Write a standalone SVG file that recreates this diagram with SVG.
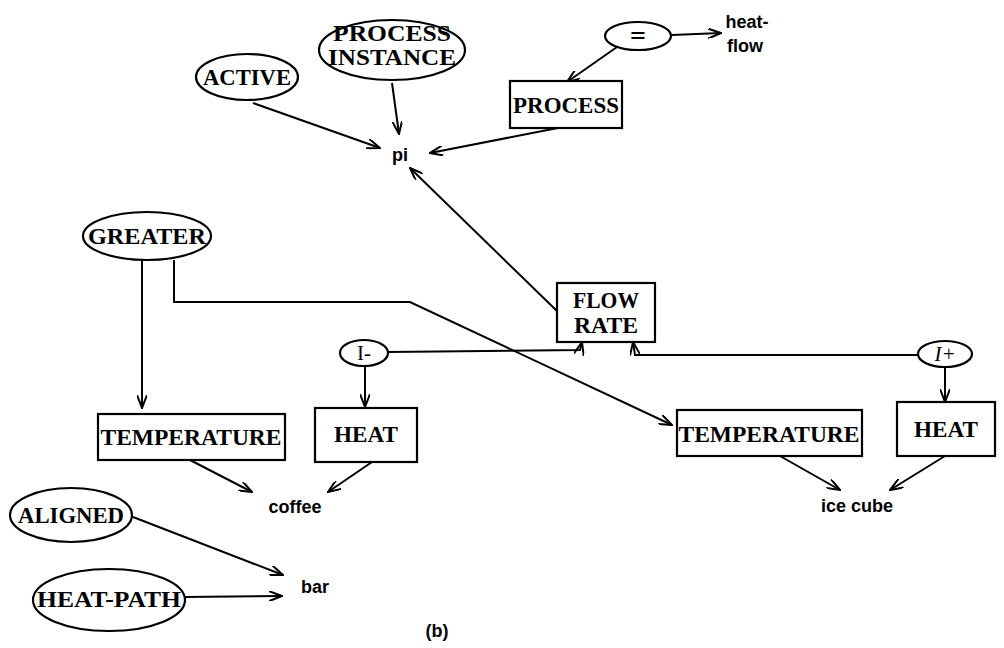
<svg xmlns="http://www.w3.org/2000/svg" width="1004" height="648" viewBox="0 0 1004 648">
<style>
.n{fill:#fff;stroke:#000;stroke-width:2.2}
.t{font-family:"Liberation Serif",serif;font-weight:bold;font-size:23px;text-anchor:middle;fill:#000}
.s{font-family:"Liberation Sans",sans-serif;font-weight:bold;font-size:18px;text-anchor:middle;fill:#000}
.e{fill:none;stroke:#000;stroke-width:2}
.r{font-weight:normal}
</style>
<defs>
<marker id="a" viewBox="0 0 14 10" refX="13" refY="5" markerWidth="14" markerHeight="10" markerUnits="userSpaceOnUse" orient="auto">
<path d="M0,0 L13,5 L0,10" fill="none" stroke="#000" stroke-width="2"/>
</marker>
</defs>
<g id="connectors">
<path class="e" d="M253,103 L380,148" marker-end="url(#a)"/>
<path class="e" d="M392,83 L399,134" marker-end="url(#a)"/>
<path class="e" d="M563,127 L430,153" marker-end="url(#a)"/>
<path class="e" d="M617,47 L567,82" marker-end="url(#a)"/>
<path class="e" d="M672,35 L721,33" marker-end="url(#a)"/>
<path class="e" d="M557,311 L410,168" marker-end="url(#a)"/>
<path class="e" d="M142,260 L142,408" marker-end="url(#a)"/>
<path class="e" d="M174,260 L174,302 L410,302 L672,425" marker-end="url(#a)"/>
<path class="e" d="M388,352 L580,350 L582,342" marker-end="url(#a)"/>
<path class="e" d="M918,355 L635,355 L633,342" marker-end="url(#a)"/>
<path class="e" d="M365,367 L365,407" marker-end="url(#a)"/>
<path class="e" d="M945,367 L945,402" marker-end="url(#a)"/>
<path class="e" d="M190,460 L252,492" marker-end="url(#a)"/>
<path class="e" d="M372,462 L328,492" marker-end="url(#a)"/>
<path class="e" d="M780,456 L840,490" marker-end="url(#a)"/>
<path class="e" d="M945,456 L890,490" marker-end="url(#a)"/>
<path class="e" d="M133,517 L283,575" marker-end="url(#a)"/>
<path class="e" d="M185,597 L282,596" marker-end="url(#a)"/>
</g>
<g id="active"><ellipse class="n" cx="247" cy="77" rx="51" ry="23"/><text class="t" x="247" y="85" textLength="88" lengthAdjust="spacingAndGlyphs">ACTIVE</text></g>
<g id="process-instance"><ellipse class="n" cx="392" cy="50" rx="73" ry="30"/><text class="t" x="392" y="41" textLength="118" lengthAdjust="spacingAndGlyphs">PROCESS</text><text class="t" x="392" y="65" textLength="128" lengthAdjust="spacingAndGlyphs">INSTANCE</text></g>
<g id="pi"><text class="s" x="400" y="161">pi</text></g>
<g id="eq"><ellipse class="n" cx="638" cy="36" rx="33" ry="14"/><text class="t" x="638" y="45" style="font-size:28px">=</text></g>
<g id="heat-flow"><text class="s" x="747" y="28" font-size="16">heat-</text><text class="s" x="745" y="52" font-size="16">flow</text></g>
<g id="process"><rect class="n" x="510" y="81" width="112" height="47"/><text class="t" x="566" y="113" textLength="106" lengthAdjust="spacingAndGlyphs">PROCESS</text></g>
<g id="greater"><ellipse class="n" cx="147" cy="236" rx="64" ry="24"/><text class="t" x="147" y="244" textLength="118" lengthAdjust="spacingAndGlyphs">GREATER</text></g>
<g id="flow-rate"><rect class="n" x="557" y="283" width="98" height="59"/><text class="t" x="606" y="308" textLength="66" lengthAdjust="spacingAndGlyphs">FLOW</text><text class="t" x="606" y="333" textLength="64" lengthAdjust="spacingAndGlyphs">RATE</text></g>
<g id="i-minus"><ellipse class="n" cx="364" cy="353" rx="24" ry="13"/><text class="t r" x="364" y="360" style="font-size:21px">I-</text></g>
<g id="i-plus"><ellipse class="n" cx="945" cy="354" rx="27" ry="13"/><text class="t r" x="945" y="361" font-style="italic" style="font-size:21px">I+</text></g>
<g id="temperature-1"><rect class="n" x="98" y="414" width="187" height="46"/><text class="t" x="191" y="445" textLength="181" lengthAdjust="spacingAndGlyphs">TEMPERATURE</text></g>
<g id="heat-1"><rect class="n" x="315" y="408" width="102" height="54"/><text class="t" x="366" y="442" textLength="64" lengthAdjust="spacingAndGlyphs">HEAT</text></g>
<g id="temperature-2"><rect class="n" x="677" y="410" width="185" height="46"/><text class="t" x="769" y="442" textLength="181" lengthAdjust="spacingAndGlyphs">TEMPERATURE</text></g>
<g id="heat-2"><rect class="n" x="897" y="402" width="98" height="54"/><text class="t" x="946" y="437" textLength="64" lengthAdjust="spacingAndGlyphs">HEAT</text></g>
<g id="coffee"><text class="s" x="295" y="513">coffee</text></g>
<g id="ice-cube"><text class="s" x="857" y="512">ice cube</text></g>
<g id="aligned"><ellipse class="n" cx="71" cy="515" rx="61" ry="27"/><text class="t" x="71" y="523" textLength="106" lengthAdjust="spacingAndGlyphs">ALIGNED</text></g>
<g id="bar"><text class="s" x="315" y="593">bar</text></g>
<g id="heat-path"><ellipse class="n" cx="109" cy="600" rx="76" ry="31"/><text class="t" x="109" y="607" textLength="144" lengthAdjust="spacingAndGlyphs">HEAT-PATH</text></g>
<text class="s" x="437" y="637">(b)</text>
</svg>
